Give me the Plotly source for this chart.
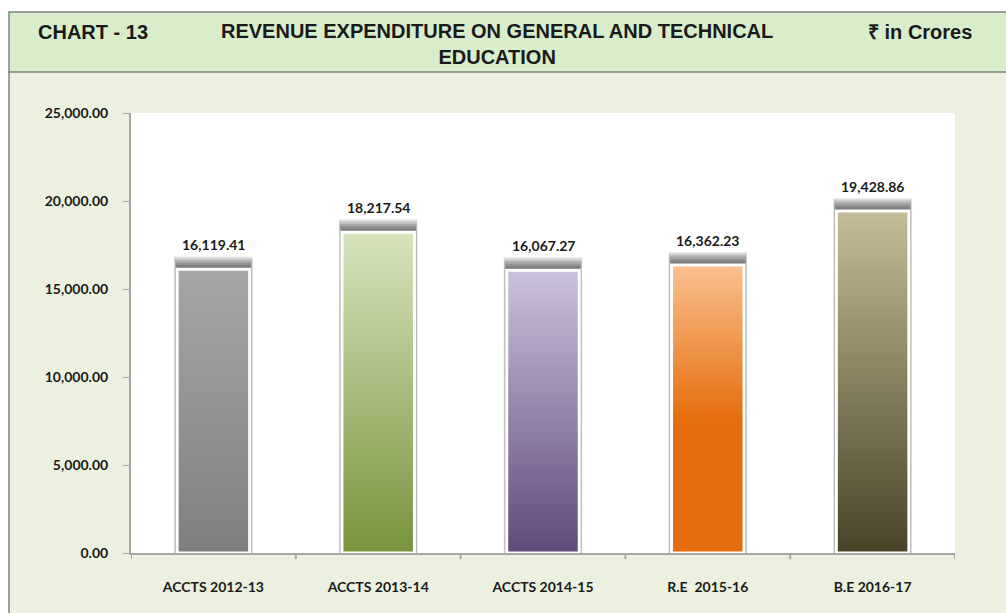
import plotly.graph_objects as go

categories = ["ACCTS 2012-13", "ACCTS 2013-14", "ACCTS 2014-15", "R.E  2015-16", "B.E 2016-17"]
values = [16119.41, 18217.54, 16067.27, 16362.23, 19428.86]
labels = ["16,119.41", "18,217.54", "16,067.27", "16,362.23", "19,428.86"]
tick_vals = [0, 5000, 10000, 15000, 20000, 25000]
tick_text = ["0.00", "5,000.00", "10,000.00", "15,000.00", "20,000.00", "25,000.00"]

# gradient per bar, bottom -> top
grads = [
    [[0, "#7F7F7F"], [1, "#A6A6A6"]],
    [[0, "#77933C"], [1, "#D7E4BD"]],
    [[0, "#604A7B"], [1, "#CCC1DA"]],
    [[0, "#E46C0A"], [0.45, "#E46C0A"], [1, "#FAC090"]],
    [[0, "#494429"], [1, "#C4BD97"]],
]

W, H = 1006, 613
L, R, T, B = 131, 51, 113, 60
pw, ph = W - L - R, H - T - B

def px(x):
    return (x - L) / pw

def py(y):
    return (H - B - y) / ph

xs = list(range(len(categories)))
bw = 0.44

fig = go.Figure()

# blurred drop shadow, stacked thin layers
for k in range(1, 7):
    fig.add_trace(go.Bar(x=xs, y=[v + 120 * k for v in values], width=bw + 0.006 * k,
                         marker=dict(color="rgba(30,30,30,0.15)", line_width=0),
                         hoverinfo="skip", showlegend=False))

for i, v in enumerate(values):
    fig.add_trace(go.Scatter(
        x=[i - bw / 2, i + bw / 2, i + bw / 2, i - bw / 2, i - bw / 2],
        y=[0, 0, v, v, 0], mode="lines", fill="toself",
        line=dict(color="white", width=3),
        fillgradient=dict(type="vertical", colorscale=grads[i]),
        hoverinfo="skip", showlegend=False))
    fig.add_annotation(x=i, y=v, text="<b>%s</b>" % labels[i], showarrow=False,
                       yshift=25, font=dict(family="Lato, Open Sans, sans-serif", size=14, color="#1a1a1a"))

# header band and frame
fig.add_shape(type="rect", xref="paper", yref="paper", x0=px(0), x1=px(W), y0=py(12), y1=py(0),
              fillcolor="white", line_width=0, layer="below")
fig.add_shape(type="rect", xref="paper", yref="paper", x0=px(0), x1=px(9), y0=py(H), y1=py(0),
              fillcolor="white", line_width=0, layer="below")
fig.add_shape(type="rect", xref="paper", yref="paper", x0=px(9), x1=px(W + 5), y0=py(72), y1=py(12),
              fillcolor="#D8EDCA", line=dict(color="#808080", width=1.5), layer="below")
fig.add_shape(type="line", xref="paper", yref="paper", x0=px(9), x1=px(9), y0=py(H + 5), y1=py(72),
              line=dict(color="#808080", width=1.5), layer="below")

hfont = dict(family="Liberation Sans, Arial, sans-serif", size=20, color="#1a1a1a")
fig.add_annotation(xref="paper", yref="paper", x=px(36), y=py(32), xanchor="left", yanchor="middle",
                   text="<b>CHART - 13</b>", showarrow=False, font=hfont)
fig.add_annotation(xref="paper", yref="paper", x=px(497), y=py(44), xanchor="center", yanchor="middle",
                   text="<b>REVENUE EXPENDITURE ON GENERAL AND TECHNICAL<br>EDUCATION</b>",
                   showarrow=False, font=hfont)
fig.add_annotation(xref="paper", yref="paper", x=px(974), y=py(32), xanchor="right", yanchor="middle",
                   text="<b>₹ in Crores</b>", showarrow=False, font=hfont)

tfont = dict(family="Lato, Open Sans, sans-serif", size=14, color="#1a1a1a")
fig.update_xaxes(range=[-0.5, 4.5], tickvals=xs, ticktext=["<b>%s</b>" % c for c in categories],
                 tickfont=tfont, showgrid=False, zeroline=False, showline=True, linecolor="#A6A6A6",
                 linewidth=2, ticks="", ticklabelstandoff=20)
fig.update_yaxes(range=[0, 25000], tickvals=tick_vals, ticktext=["<b>%s</b>" % t for t in tick_text],
                 tickfont=tfont, showgrid=False, zeroline=False, showline=True, linecolor="#A6A6A6",
                 linewidth=2, ticks="outside", ticklen=6, tickcolor="#A6A6A6", ticklabelstandoff=12)

# category boundary ticks on x axis
for k in range(6):
    fig.add_shape(type="line", xref="x", yref="paper", x0=k - 0.5, x1=k - 0.5, y0=0, y1=-0.014,
                  line=dict(color="#A6A6A6", width=2))

fig.update_layout(width=W, height=H, margin=dict(l=L, r=R, t=T, b=B),
                  paper_bgcolor="#EBF1DE", plot_bgcolor="white", barmode="overlay",
                  showlegend=False)

fig.write_html("out.html", config={"displayModeBar": False},
               post_script="document.body.style.margin='0';")
